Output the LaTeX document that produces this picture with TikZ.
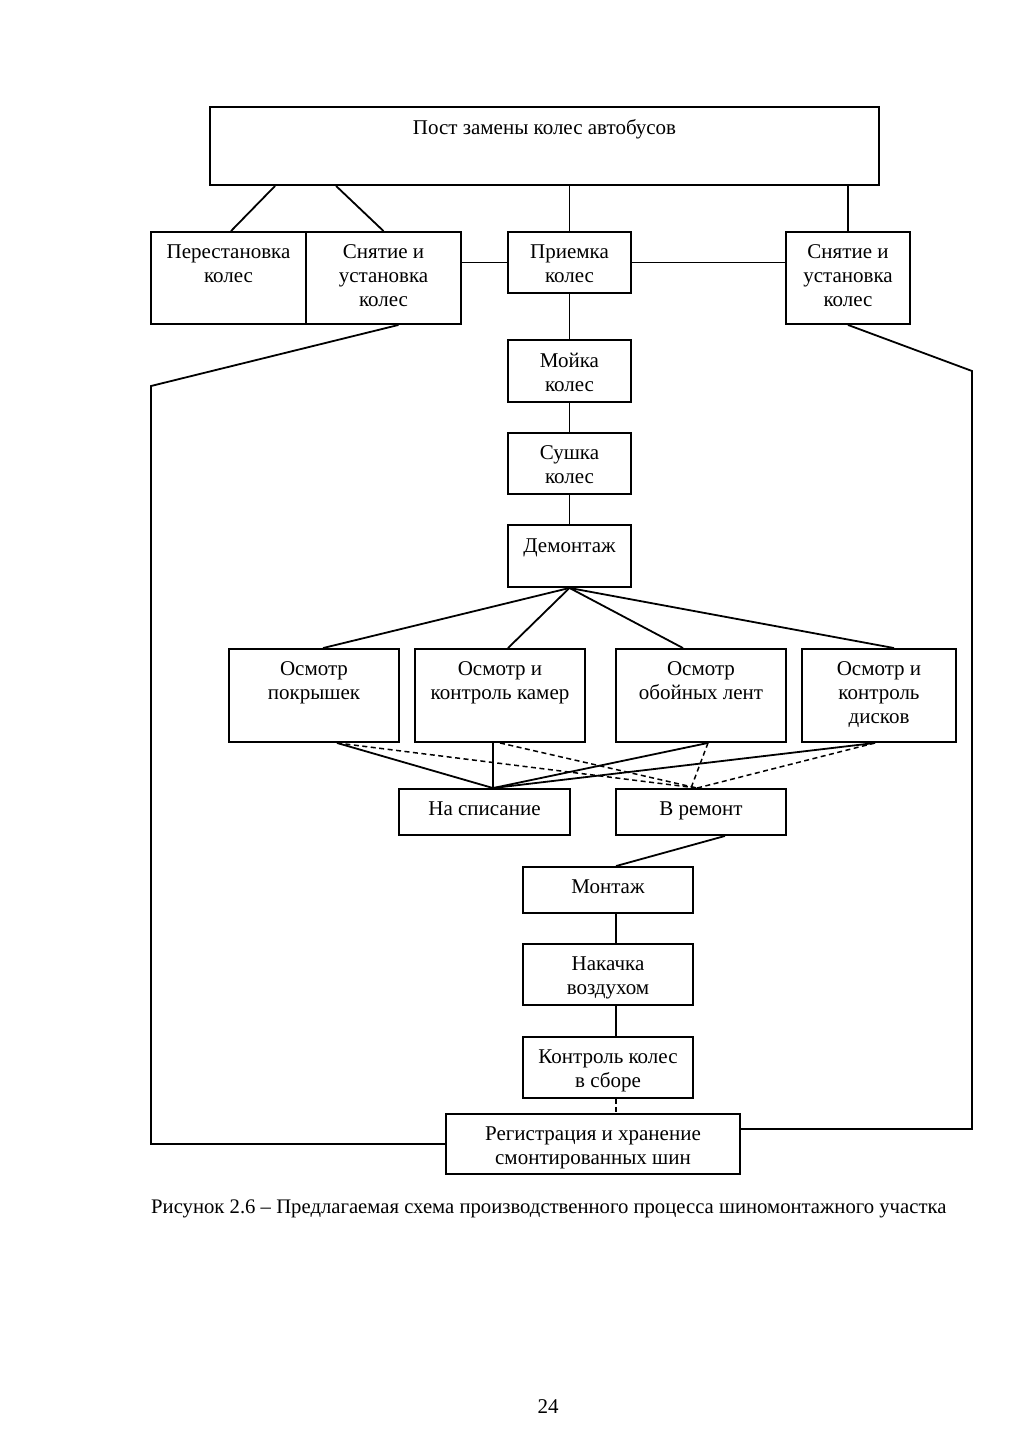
\documentclass[tikz,border=0pt]{standalone}
\usepackage{fontspec}
\setmainfont{Liberation Serif}
\begin{document}
\begin{tikzpicture}[x=1pt,y=-1pt,
  box/.style={draw, line width=1.9pt, inner sep=0pt},
  lbl/.style={align=center, anchor=north, inner sep=0pt, font=\fontsize{21}{24}\selectfont},
  ln/.style={line width=1.8pt},
  dln/.style={line width=1.5pt, dash pattern=on 5pt off 3.5pt}]
\useasboundingbox[fill=white] (0,0) rectangle (1024,1448);
% boxes
\node[box, minimum width=669pt, minimum height=78pt] (top) at (544.5,146) {};
\node[box, minimum width=155pt, minimum height=92pt] (per) at (228.5,278) {};
\node[box, minimum width=155pt, minimum height=92pt] (sn1) at (383.5,278) {};
\node[box, minimum width=123pt, minimum height=61pt] (pri) at (569.5,262.5) {};
\node[box, minimum width=124pt, minimum height=92pt] (sn2) at (848,278) {};
\node[box, minimum width=123pt, minimum height=62pt] (moi) at (569.5,371) {};
\node[box, minimum width=123pt, minimum height=61pt] (sush) at (569.5,463.5) {};
\node[box, minimum width=123pt, minimum height=62pt] (dem) at (569.5,556) {};
\node[box, minimum width=170pt, minimum height=93pt] (o1) at (314,695.5) {};
\node[box, minimum width=170pt, minimum height=93pt] (o2) at (500,695.5) {};
\node[box, minimum width=170pt, minimum height=93pt] (o3) at (701,695.5) {};
\node[box, minimum width=154pt, minimum height=93pt] (o4) at (879,695.5) {};
\node[box, minimum width=171pt, minimum height=46pt] (spis) at (484.5,812) {};
\node[box, minimum width=170pt, minimum height=46pt] (rem) at (701,812) {};
\node[box, minimum width=170pt, minimum height=46pt] (mont) at (608,890) {};
\node[box, minimum width=170pt, minimum height=61pt] (nak) at (608,974.5) {};
\node[box, minimum width=170pt, minimum height=61pt] (kon) at (608,1067.5) {};
\node[box, minimum width=294pt, minimum height=60pt] (reg) at (593,1144) {};
% labels
\node[lbl] (ttop) at ([yshift=-13pt]top.north) {Пост замены колес автобусов};
\node[lbl] (tper) at ([yshift=-13.5pt]per.north) {Перестановка\\колес};
\node[lbl] (tsn1) at ([yshift=-13.5pt]sn1.north) {Снятие и\\установка\\колес};
\node[lbl] (tpri) at ([yshift=-13.5pt]pri.north) {Приемка\\колес};
\node[lbl] (tsn2) at ([yshift=-13.5pt]sn2.north) {Снятие и\\установка\\колес};
\node[lbl] (tmoi) at ([yshift=-13.5pt]moi.north) {Мойка\\колес};
\node[lbl] (tsush) at ([yshift=-13.5pt]sush.north) {Сушка\\колес};
\node[lbl] (tdem) at ([yshift=-14pt]dem.north) {Демонтаж};
\node[lbl] (to1) at ([yshift=-13.5pt]o1.north) {Осмотр\\покрышек};
\node[lbl] (to2) at ([yshift=-13.5pt]o2.north) {Осмотр и\\контроль камер};
\node[lbl] (to3) at ([yshift=-13.5pt]o3.north) {Осмотр\\обойных лент};
\node[lbl] (to4) at ([yshift=-13.5pt]o4.north) {Осмотр и\\контроль\\дисков};
\node[lbl] (tspis) at ([yshift=-13.5pt]spis.north) {На списание};
\node[lbl] (trem) at ([yshift=-13.5pt]rem.north) {В ремонт};
\node[lbl] (tmont) at ([yshift=-13.5pt]mont.north) {Монтаж};
\node[lbl] (tnak) at ([yshift=-13.5pt]nak.north) {Накачка\\воздухом};
\node[lbl] (tkon) at ([yshift=-13.5pt]kon.north) {Контроль колес\\в сборе};
\node[lbl] (treg) at ([yshift=-13.5pt]reg.north) {Регистрация и хранение\\смонтированных шин};
\node[anchor=west, inner sep=0pt, font=\fontsize{20.7}{24}\selectfont] (cap) at (151,1209) {Рисунок 2.6 – Предлагаемая схема производственного процесса шиномонтажного участка};
\node[inner sep=0pt, font=\fontsize{21}{24}\selectfont] (pg) at (548,1407) {24};
% connectors top
\draw[ln] ([xshift=66pt]top.south west) -- ([xshift=2.5pt]per.north);
\draw[ln] ([xshift=127pt]top.south west) -- (sn1.north);
\draw[ln] (pri.north |- top.south) -- (pri.north);
\draw[ln] (sn2.north |- top.south) -- (sn2.north);
\draw[ln] (pri.west -| sn1.east) -- (pri.west);
\draw[ln] (pri.east) -- (pri.east -| sn2.west);
\draw[ln] (pri.south) -- (moi.north);
\draw[ln] (moi.south) -- (sush.north);
\draw[ln] (sush.south) -- (dem.north);
% fan out
\draw[ln] (dem.south) -- ([xshift=9pt]o1.north);
\draw[ln] (dem.south) -- ([xshift=8pt]o2.north);
\draw[ln] (dem.south) -- ([xshift=-18pt]o3.north);
\draw[ln] (dem.south) -- ([xshift=15pt]o4.north);
% loops
\coordinate (lp) at (151,386);
\coordinate (rp1) at (972,371);
\coordinate (rege) at ([yshift=15pt]reg.east);
\draw[ln] ([xshift=15pt]sn1.south) -- (lp) -- (lp |- reg.west) -- (reg.west);
\draw[ln] (sn2.south) -- (rp1) -- (rp1 |- rege) -- (rege);
% inspection to decisions
\coordinate (sp) at ([xshift=8.5pt]spis.north);
\coordinate (rp) at ([xshift=-4pt]rem.north);
\draw[ln] ([xshift=23pt]o1.south) -- (sp);
\draw[dln] ([xshift=23pt]o1.south) -- (rp);
\draw[ln] ([xshift=-7pt]o2.south) -- (sp);
\draw[dln] (o2.south) -- (rp);
\draw[ln] ([xshift=7pt]o3.south) -- (sp);
\draw[dln] ([xshift=7pt]o3.south) -- ([xshift=-10pt]rem.north);
\draw[ln] ([xshift=-4pt]o4.south) -- (sp);
\draw[dln] ([xshift=-4pt]o4.south) -- (rp);
% bottom chain
\draw[ln] ([xshift=24pt]rem.south) -- ([xshift=8pt]mont.north);
\draw[ln] ([xshift=8pt]mont.south) -- ([xshift=8pt]nak.north);
\draw[ln] ([xshift=8pt]nak.south) -- ([xshift=8pt]kon.north);
\draw[dln] ([xshift=8pt]kon.south) -- ([xshift=23pt]reg.north);
\end{tikzpicture}
\end{document}
